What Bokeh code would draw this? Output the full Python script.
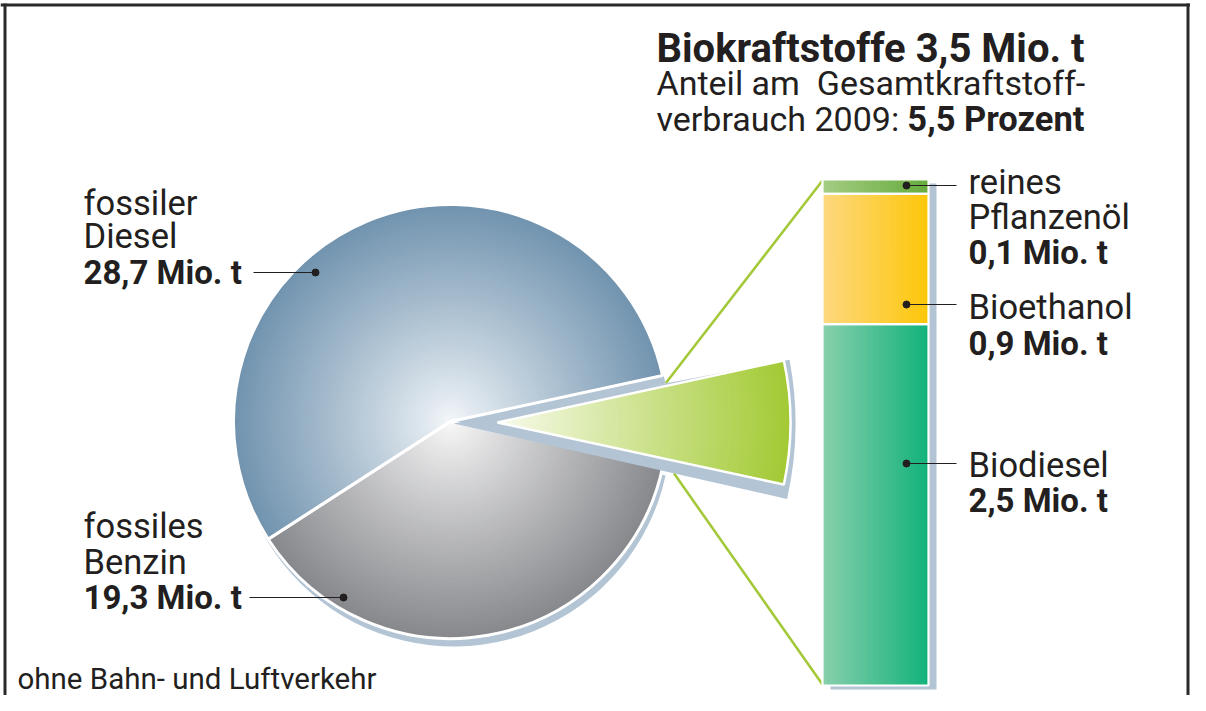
import math
import numpy as np
from bokeh.plotting import figure
from bokeh.models import Range1d
from bokeh.core.properties import value
from bokeh.embed import file_html
from bokeh.resources import INLINE

# ---------------- data ----------------
pie_names = ["fossiler Diesel", "Biokraftstoffe", "fossiles Benzin"]
pie_values = [28.7, 3.5, 19.3]                 # Mio. t
bio_names = ["Biodiesel", "Bioethanol", "reines Pflanzenöl"]   # bottom -> top
bio_values = [2.5, 0.9, 0.1]                   # Mio. t
diesel_label = ["fossiler", "Diesel", "28,7 Mio. t"]
benzin_label = ["fossiles", "Benzin", "19,3 Mio. t"]
bio_label_lines = [["Biodiesel", "2,5 Mio. t"],
                   ["Bioethanol", "0,9 Mio. t"],
                   ["reines", "Pflanzenöl", "0,1 Mio. t"]]
title_line1 = "Biokraftstoffe 3,5 Mio. t"
title_line2 = "Anteil am  Gesamtkraftstoff-"
title_line3a = "verbrauch 2009: "
title_line3b = "5,5 Prozent"
footnote = "ohne Bahn- und Luftverkehr"

# ---------------- styling ----------------
FONT = value("Roboto")
TXT = "#231f20"
SHADOW = "#b3c5d5"
GREEN_LINE = "#a3c93a"
pie_grad = {"fossiler Diesel": ("#f5f8fb", "#7294af"),
            "fossiles Benzin": ("#fafafa", "#88898d")}
bio_wedge_grad = ("#f8fbec", "#a3ca35")
bar_grad = {"Biodiesel": ("#88cfac", "#12b27a"),
            "Bioethanol": ("#fdd880", "#fdc708"),
            "reines Pflanzenöl": ("#a4cc83", "#66ac3c")}

W, H = 1190, 695


def Y(y):  # reference pixel row -> data y (y up)
    return 711 - y


def hex2rgb(h):
    h = h.lstrip("#")
    return tuple(int(h[i:i + 2], 16) for i in (0, 2, 4))


def lerp(c0, c1, t):
    a, b = hex2rgb(c0), hex2rgb(c1)
    return "#%02x%02x%02x" % tuple(int(round(a[i] + (b[i] - a[i]) * t)) for i in range(3))


p = figure(width=W, height=H, x_range=Range1d(0, W), y_range=Range1d(Y(H), Y(0)),
           output_backend="svg", toolbar_location=None, min_border=0)
p.axis.visible = False
p.grid.visible = False
p.outline_line_color = None
p.background_fill_color = "white"
p.border_fill_color = "white"

# bar scale (extra range): value 0 at row 685, total at row 179
bio_total = sum(bio_values)
px_per = (685 - 179) / bio_total
p.extra_y_ranges = {"bar": Range1d((685 - H) / px_per, 685 / px_per)}


def bar_row(v):
    return 685 - v * px_per


# ---------------- pie geometry ----------------
total = sum(pie_values)
vals = dict(zip(pie_names, pie_values))
half_bio = math.pi * vals["Biokraftstoffe"] / total
d0 = half_bio
d1 = d0 + 2 * math.pi * vals["fossiler Diesel"] / total
b0 = d1
b1 = b0 + 2 * math.pi * vals["fossiles Benzin"] / total

cx, cy, R = 450, Y(421), 217
ex_cx, ex_cy, ex_R = 497, Y(422), 293          # exploded bio wedge
sh_cx, sh_cy, sh_R = 453, Y(423), 342          # its shadow

# connector lines (drawn first, under everything)
deg = math.pi / 180
top_end = (sh_cx + 216 * math.cos(half_bio - 1.5 * deg), sh_cy + 216 * math.sin(half_bio - 1.5 * deg))
bot_end = (sh_cx + 226 * math.cos(-half_bio - 0.5 * deg), sh_cy + 226 * math.sin(-half_bio - 0.5 * deg))
p.segment(x0=[822, 822], y0=[Y(bar_row(bio_total)) - 1, Y(bar_row(0)) + 1],
          x1=[top_end[0], bot_end[0]], y1=[top_end[1], bot_end[1]],
          line_color=GREEN_LINE, line_width=2.6)

# pie shadow
p.wedge(x=[cx + 3], y=[cy - 8], radius=R, start_angle=d0, end_angle=b1,
        fill_color=SHADOW, line_color=None)


def grad_wedge(x, y, r, a0, a1, c_in, c_out, n=70, gamma=1.0):
    radii = [r * (n - i) / n for i in range(n)]
    cols = [lerp(c_in, c_out, (rr / r) ** gamma) for rr in radii]
    p.wedge(x=[x] * n, y=[y] * n, radius=radii, start_angle=a0, end_angle=a1,
            fill_color=cols, line_color=cols, line_width=0.6)


grad_wedge(cx, cy, R, d0, d1, *pie_grad["fossiler Diesel"], gamma=0.9)
grad_wedge(cx, cy, R, b0, b1, *pie_grad["fossiles Benzin"], gamma=0.9)
p.wedge(x=[cx, cx], y=[cy, cy], radius=R, start_angle=[d0, b0], end_angle=[d1, b1],
        fill_color=None, line_color="white", line_width=3)

# exploded biofuel wedge + shadow
p.wedge(x=[sh_cx], y=[sh_cy], radius=sh_R, start_angle=-half_bio - 0.5 * deg,
        end_angle=half_bio - 1.5 * deg, fill_color=SHADOW, line_color=None)
grad_wedge(ex_cx, ex_cy, ex_R, -half_bio, half_bio, *bio_wedge_grad, n=80)
p.wedge(x=[ex_cx], y=[ex_cy], radius=ex_R, start_angle=-half_bio, end_angle=half_bio,
        fill_color=None, line_color="white", line_width=2.5)

# ---------------- stacked bar ----------------
bx0, bx1 = 822, 928
sh_dy = 4 / px_per
p.quad(left=[bx0 + 8], right=[bx1 + 8], bottom=[0 - sh_dy], top=[bio_total - sh_dy],
       y_range_name="bar", fill_color=SHADOW, line_color=None)
bottoms = np.cumsum([0] + bio_values[:-1])
tops = np.cumsum(bio_values)
nstrip = 40
edges = np.linspace(bx0, bx1, nstrip + 1)
for name, b, t in zip(bio_names, bottoms, tops):
    c0, c1 = bar_grad[name]
    cols = [lerp(c0, c1, (i + 0.5) / nstrip) for i in range(nstrip)]
    p.quad(left=edges[:-1], right=edges[1:] + 0.6, bottom=[b] * nstrip, top=[t] * nstrip,
           y_range_name="bar", fill_color=cols, line_color=None)
p.quad(left=[bx0] * 3, right=[bx1] * 3, bottom=bottoms, top=tops, y_range_name="bar",
       fill_color=None, line_color="white", line_width=2.2)

# ---------------- labels ----------------
def txt(x, y, s, size, bold=False, align="left"):
    s = s.replace("  ", "\u00a0 ")
    px = float(size.replace("px", ""))
    yy = y - 0.3 * px          # compensate the rendered baseline offset
    p.text(x=[x], y=[Y(yy)], text=[s], text_font=FONT, text_font_size=value(size),
           text_font_style="bold" if bold else "normal", text_color=TXT,
           text_align=align, text_baseline="alphabetic")


REG, BOLD = "34.5px", "33px"

# title block
txt(656, 60, title_line1, "40px", bold=True)
txt(656, 93, title_line2, "34px")
txt(656, 129, title_line3a, "34px")
txt(1084, 129, title_line3b, "34.5px", bold=True, align="right")

# pie labels
for lines, rows in ((diesel_label, (213, 246, 282)), (benzin_label, (536, 572, 607))):
    for i, (s, r) in enumerate(zip(lines, rows)):
        txt(83, r, s, BOLD if i == 2 else REG, bold=(i == 2))

leader_x0 = [253, 249]
leader_x1 = [315, 343]
leader_y = [272, 597]
p.segment(x0=leader_x0, y0=[Y(v) for v in leader_y], x1=leader_x1, y1=[Y(v) for v in leader_y],
          line_color=TXT, line_width=1.2)
p.scatter(x=leader_x1, y=[Y(v) for v in leader_y], size=7, color=TXT)

# bar labels
bar_label_rows = [(475, 510), (317, 353), (192, 227, 262)]
bar_leader_rows = [463, 304, 185]
for lines, rows in zip(bio_label_lines, bar_label_rows):
    for i, (s, r) in enumerate(zip(lines, rows)):
        last = i == len(lines) - 1
        txt(968, r, s, BOLD if last else REG, bold=last)
p.segment(x0=[906] * 3, y0=[Y(v) for v in bar_leader_rows], x1=[956] * 3,
          y1=[Y(v) for v in bar_leader_rows], line_color=TXT, line_width=1.2)
p.scatter(x=[906] * 3, y=[Y(v) for v in bar_leader_rows], size=7, color=TXT)

# footnote
txt(17, 687, footnote, "29.5px")

# frame (top, left, right)
p.segment(x0=[0, 4.5, W - 2.5], y0=[Y(4.5), Y(3), Y(3)], x1=[W, 4.5, W - 2.5],
          y1=[Y(4.5), Y(H), Y(H)], line_color="#2a2a2a", line_width=3)

open("out.html", "w").write(file_html(p, INLINE))
